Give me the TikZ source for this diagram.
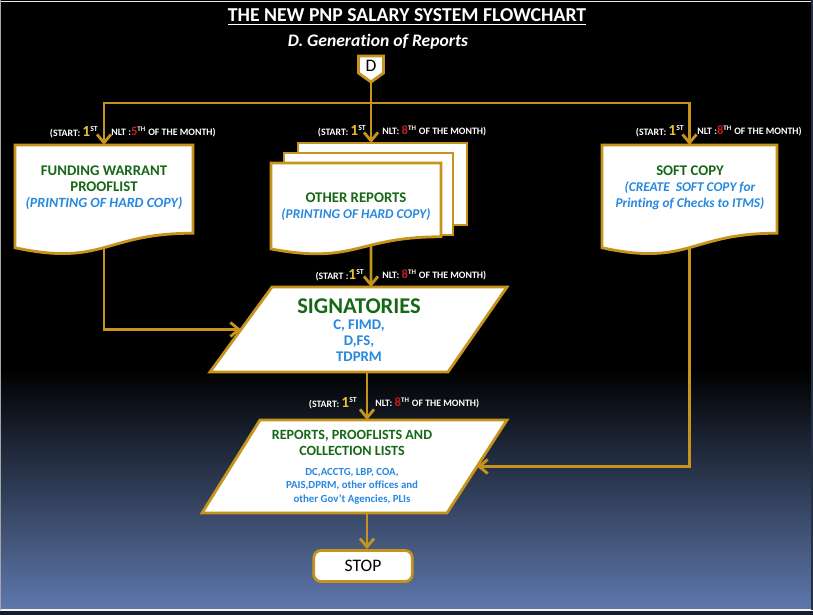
\documentclass[tikz,border=0pt]{standalone}
\usepackage{fontspec}
\setmainfont{Carlito}[Ligatures=NoCommon]
\usetikzlibrary{arrows.meta}

\definecolor{gold}{RGB}{198,148,28}
\definecolor{leafgreen}{RGB}{22,104,22}
\definecolor{skyblue}{RGB}{38,136,222}
\definecolor{nltred}{RGB}{196,28,28}
\definecolor{sunyellow}{RGB}{238,192,40}
\definecolor{dusk}{RGB}{94,120,172}

\newcommand{\first}{{\fontsize{11}{11}\selectfont\textcolor{sunyellow}{1}}\raisebox{0.45em}{\fontsize{5.5}{6}\selectfont ST}}
\newcommand{\nth}[1]{{\fontsize{9}{9}\selectfont\textcolor{nltred}{#1}}\textsuperscript{TH}}

% document shape: name, x, y (top left), width, height, pos of the bottom point
\newcommand{\docshape}[6]{%
  \draw[docbox] (#2,#3) -- ({#2+#4},#3) -- ({#2+#4},{#3+0.802*#5})
    .. controls ({#2+0.5*#4},{#3+0.802*#5}) and ({#2+0.5*#4},{#3+1.107*#5}) .. (#2,{#3+0.934*#5})
    coordinate[pos=#6] (#1-bot) -- cycle;}

\begin{document}
\begin{tikzpicture}[x=0.025cm,y=-0.025cm,
    wire/.style={draw=gold,line width=2pt},
    flow/.style={wire,-{Straight Barb[length=6pt,width=10pt]}},
    docbox/.style={draw=gold,line width=2pt,fill=white},
    shapebox/.style={draw=gold,line width=2pt,fill=white},
    when/.style={text=white,inner sep=0pt,font=\bfseries\fontsize{7}{8}\selectfont},
    doctext/.style={text=leafgreen,align=center,inner sep=0pt,font=\bfseries\fontsize{10.5}{11.4}\selectfont},
    listtext/.style={text=skyblue,align=center,inner sep=0pt,font=\bfseries\fontsize{10.5}{11.4}\selectfont}]
  \useasboundingbox (0,0) rectangle (813,615);

  % background
  \fill[black] (0,0) rectangle (813,615);
  \shade[top color=black,bottom color=dusk] (0,370) rectangle (813,609);
  \fill[black!75!dusk] (0,611) rectangle (813,615);
  \draw[white!90!gray,line width=1.2pt] (0,610) -- (813,610);
  \draw[white!85!gray,line width=0.6pt] (0,1) -- (813,1);
  \draw[gray!70,line width=0.6pt] (0.5,0) -- (0.5,610);
  \draw[black!60!dusk,line width=0.8pt] (812,0) -- (812,610);

  % titles
  \node[text=white,font=\bfseries\fontsize{14}{14}\selectfont] (title) at (407,17) {\underline{THE NEW PNP SALARY SYSTEM FLOWCHART}};
  \node[text=white,font=\bfseries\itshape\fontsize{12.5}{13}\selectfont] (subtitle) at (378,42) {D. Generation of Reports};

  % off-page connector
  \draw[shapebox] (358.5,56) -- (383.5,56) -- (383.5,73) -- (371,82) -- (358.5,73) -- cycle;
  \node[font=\fontsize{12.5}{12}\selectfont] (D) at (371,66) {D};
  \coordinate (D-tip) at (371,82);
  \coordinate (hub) at (371,103);

  % documents
  \docshape{fw}{15}{145}{178}{110}{0.5}
  \node[doctext] (fw) at (104,188) {FUNDING WARRANT\\PROOFLIST\\{\color{skyblue}\itshape\fontsize{10}{11.4}\selectfont(PRINTING OF HARD COPY)}};
  \coordinate (fw-top) at (104,145);

  \draw[docbox] (298,143) rectangle (467,225);
  \draw[docbox] (284,153) rectangle (453,235);
  \docshape{or}{271}{163}{170}{92}{0.385}
  \node[doctext] (or) at (356,207) {OTHER REPORTS\\{\color{skyblue}\itshape\fontsize{9.5}{11.4}\selectfont(PRINTING OF HARD COPY)}};
  \coordinate (or-top) at (371,143);

  \docshape{sc}{602}{145}{175}{110}{0.5}
  \node[doctext] (sc) at (690,188) {SOFT COPY\\{\color{skyblue}\itshape\fontsize{9.5}{11}\selectfont(CREATE\ \ SOFT COPY for}\\{\color{skyblue}\itshape\fontsize{9.5}{11}\selectfont Printing of Checks to ITMS)}};
  \coordinate (sc-top) at (689.5,145);

  % signatories
  \draw[shapebox] (272,287) -- (507,287) -- (448,372) -- (210,372) -- cycle;
  \node[doctext,font=\bfseries\fontsize{16}{16}\selectfont] (sig-title) at (359,306) {SIGNATORIES};
  \node[listtext] (sig) at (359,341) {C, FIMD,\\D,FS,\\TDPRM};
  \coordinate (sig-n) at (371,287);
  \coordinate (sig-w) at (241,329.5);
  \coordinate (sig-s) at (367,372);

  % reports
  \draw[shapebox] (260,420) -- (507,420) -- (447,513) -- (202,513) -- cycle;
  \node[doctext,font=\bfseries\fontsize{10}{11.4}\selectfont] (rep-title) at (352,443) {REPORTS, PROOFLISTS AND\\COLLECTION LISTS};
  \node[listtext,font=\bfseries\fontsize{7.7}{9.6}\selectfont] (rep) at (352,486) {DC,ACCTG, LBP, COA,\\PAIS,DPRM, other offices and\\other Gov't Agencies, PLIs};
  \coordinate (rep-n) at (367,420);
  \coordinate (rep-e) at (477,466.5);
  \coordinate (rep-s) at (367,513);

  \node[shapebox,rounded corners=5pt,minimum width=70pt,minimum height=22pt,font=\fontsize{12.5}{13}\selectfont] (stop) at (363,566) {STOP};

  % connectors
  \draw[wire] (D-tip) -- (hub);
  \draw[flow] (hub) -| (fw-top);
  \draw[flow] (hub) -- (or-top);
  \draw[flow] (hub) -| (sc-top);
  \draw[flow] (or-bot) -- (sig-n);
  \draw[flow] (fw-bot) |- (sig-w);
  \draw[flow] (sig-s) -- (rep-n);
  \draw[flow] (sc-bot) |- (rep-e);
  \draw[flow] (rep-s) -- (rep-s |- stop.north);

  % dates
  \node[when,anchor=east] (when-fw-a) at (98,132) {(START: \first};
  \node[when,anchor=west] (when-fw-b) at (111,132) {NLT :\nth{5} OF THE MONTH)};
  \node[when,anchor=east] (when-or-a) at (366,131) {(START: \first};
  \node[when,anchor=west] (when-or-b) at (382,131) {NLT: \nth{8} OF THE MONTH)};
  \node[when,anchor=east] (when-sc-a) at (684,131) {(START: \first};
  \node[when,anchor=west] (when-sc-b) at (697,131) {NLT :\nth{8} OF THE MONTH)};
  \node[when,anchor=east] (when-sig-a) at (364,275) {(START :\first};
  \node[when,anchor=west] (when-sig-b) at (382,275) {NLT: \nth{8} OF THE MONTH)};
  \node[when,anchor=east] (when-rep-a) at (357,403) {(START: \first};
  \node[when,anchor=west] (when-rep-b) at (375,403) {NLT: \nth{8} OF THE MONTH)};
\end{tikzpicture}
\end{document}
